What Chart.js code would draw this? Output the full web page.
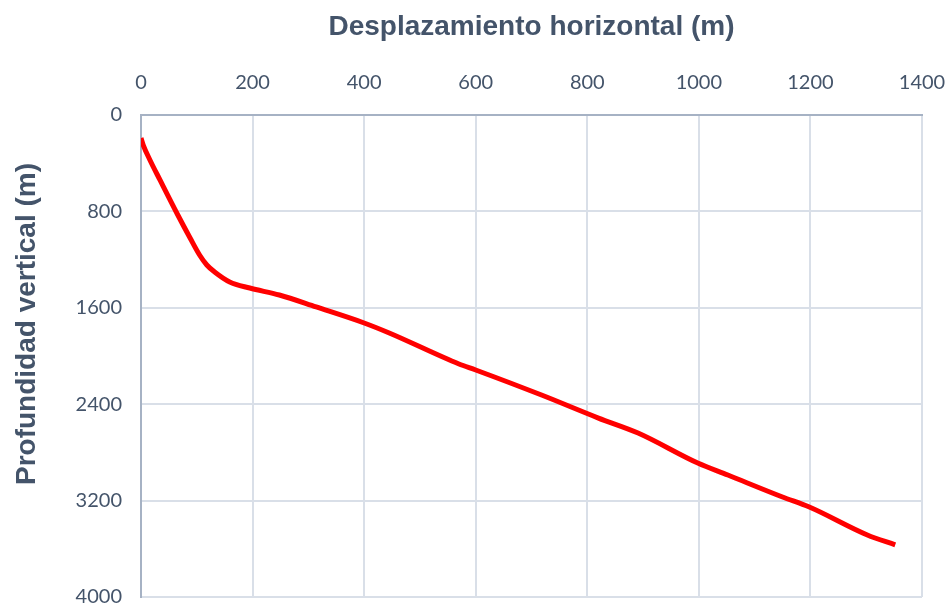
<!DOCTYPE html>
<html>
<head>
<meta charset="utf-8">
<script src="https://cdn.jsdelivr.net/npm/chart.js@4"></script>
<style>
  html, body { margin: 0; padding: 0; background: #fff; }
  #wrap { width: 950px; height: 606px; }
</style>
</head>
<body>
<div id="wrap"><canvas id="trayectoria" width="950" height="606"></canvas></div>
<script>
// desplazamiento horizontal (m) y profundidad vertical (m)
var desplazamiento = [0, 4, 16, 34, 66, 88, 105, 118, 132, 159, 195, 248, 314, 400, 445, 570, 600, 718, 820, 891, 998, 1052, 1150, 1198, 1302, 1352];
var profundidad = [191, 249, 373, 539, 830, 1021, 1162, 1245, 1303, 1386, 1436, 1494, 1593, 1726, 1809, 2066, 2116, 2324, 2515, 2639, 2888, 2988, 3170, 3253, 3485, 3568];

var xTitulo = 'Desplazamiento horizontal (m)';
var yTitulo = 'Profundidad vertical (m)';

var puntos = desplazamiento.map(function (x, i) {
    return { x: x, y: profundidad[i] };
});

var textColor = '#44546a';
var gridColor = '#d9dfe8';
var axisColor = '#a6b2c4';
var tickFont = { family: 'Lato, "Open Sans", sans-serif', size: 20 };
var titleFont = '"Liberation Sans", Arial, sans-serif';

// titulo vertical dibujado a mano para centrarlo como en el original
var yTitlePlugin = {
    id: 'yTitle',
    afterDraw: function (chart) {
        var c = chart.ctx;
        c.save();
        c.translate(27, 324);
        c.rotate(-Math.PI / 2);
        c.fillStyle = textColor;
        c.font = 'bold 28px ' + titleFont;
        c.textAlign = 'center';
        c.textBaseline = 'middle';
        c.fillText(yTitulo, 0, 0);
        c.restore();
    }
};

function plainNumber(value) {
    return String(value);
}

var ctx = document.getElementById('trayectoria').getContext('2d');
var chart = new Chart(ctx, {
    type: 'scatter',
    data: {
        datasets: [{
            data: puntos,
            showLine: true,
            borderColor: '#ff0000',
            borderWidth: 5,
            pointRadius: 0,
            cubicInterpolationMode: 'monotone',
            fill: false
        }]
    },
    plugins: [yTitlePlugin],
    options: {
        responsive: false,
        animation: false,
        layout: { padding: 0 },
        plugins: {
            legend: { display: false },
            tooltip: { enabled: false }
        },
        scales: {
            x: {
                type: 'linear',
                position: 'top',
                min: 0,
                max: 1400,
                ticks: {
                    stepSize: 200,
                    color: textColor,
                    padding: 20,
                    font: tickFont,
                    callback: plainNumber
                },
                grid: { color: gridColor, lineWidth: 2, drawTicks: false },
                border: { color: axisColor, width: 2 },
                title: {
                    display: true,
                    text: xTitulo,
                    color: textColor,
                    padding: { top: 10, bottom: 0 },
                    font: { family: titleFont, size: 28, weight: 'bold' }
                },
                afterFit: function (scale) {
                    scale.height = 115;
                    scale.paddingLeft = 0;
                    scale.paddingRight = 28;
                }
            },
            y: {
                type: 'linear',
                reverse: true,
                min: 0,
                max: 4000,
                ticks: {
                    stepSize: 800,
                    color: textColor,
                    padding: 19,
                    font: tickFont,
                    callback: plainNumber
                },
                grid: { color: gridColor, lineWidth: 2, drawTicks: false },
                border: { color: axisColor, width: 2 },
                title: { display: false, text: yTitulo },
                afterFit: function (scale) {
                    scale.width = 141;
                    scale.paddingTop = 0;
                    scale.paddingBottom = 9;
                }
            }
        }
    }
});
</script>
</body>
</html>
